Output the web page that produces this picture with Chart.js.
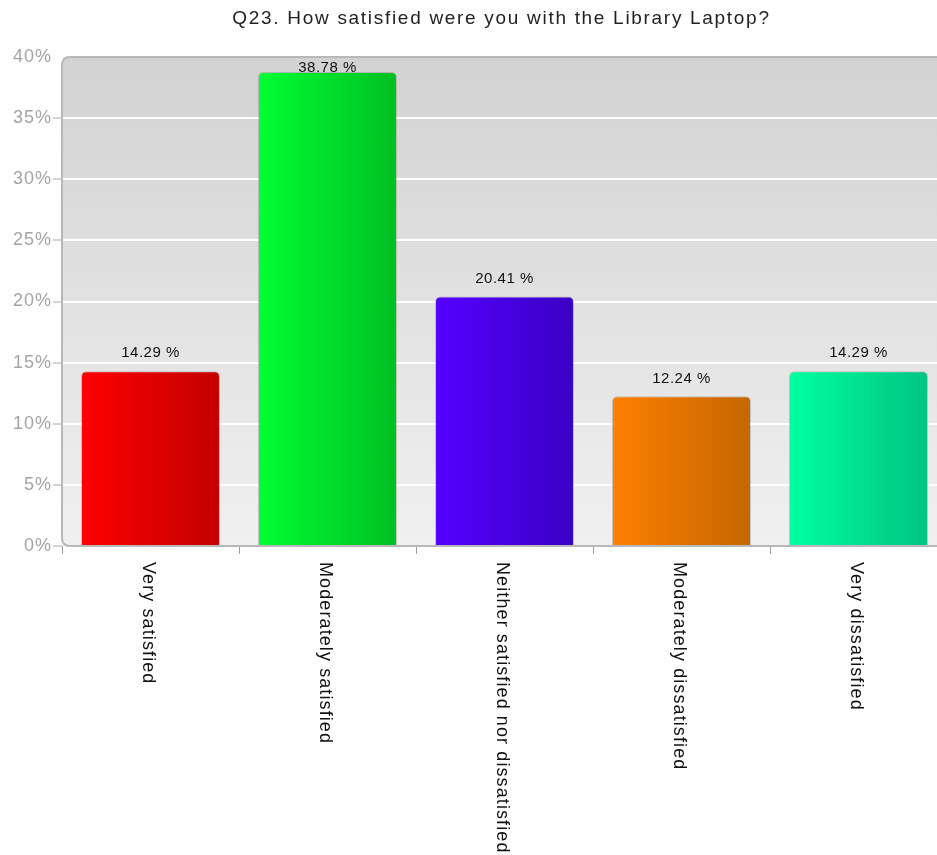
<!DOCTYPE html>
<html>
<head>
<meta charset="utf-8">
<script src="https://cdn.jsdelivr.net/npm/chart.js@4"></script>
<style>
html,body{margin:0;padding:0;background:#fff;overflow:hidden;}
#wrap{width:950px;height:855px;}
</style>
</head>
<body>
<div id="wrap"><canvas id="c" width="950" height="855"></canvas></div>
<script>
const titleText = "Q23. How satisfied were you with the Library Laptop?";
const categories = ["Very satisfied","Moderately satisfied","Neither satisfied nor dissatisfied","Moderately dissatisfied","Very dissatisfied"];
const percentages = [14.29, 38.78, 20.41, 12.24, 14.29];
const colorsLight = ["#ff0000","#00ff33","#5500ff","#ff8000","#00ffa0"];
const colorsDark  = ["#c40000","#00bf22","#3a00c4","#c46600","#00c482"];
const yTicks = [0,5,10,15,20,25,30,35,40];

const FONT = "'Liberation Sans', Arial, sans-serif";

function barFill(ctx){
  const chart = ctx.chart;
  const i = ctx.dataIndex;
  if (!chart.chartArea || !chart.scales.x) return colorsLight[i];
  const xs = chart.scales.x;
  const cx = xs.getPixelForValue(i);
  const w = (xs.width / categories.length) * 0.785;
  const g = chart.ctx.createLinearGradient(cx - w/2, 0, cx + w/2, 0);
  g.addColorStop(0, colorsLight[i]);
  g.addColorStop(1, colorsDark[i]);
  return g;
}

const bgPlugin = {
  id: 'bgPlugin',
  beforeDraw(chart){
    const {ctx, chartArea:a} = chart;
    ctx.letterSpacing = '1px';
    ctx.save();
    const r = 8;
    ctx.beginPath();
    ctx.moveTo(a.left + r, a.top);
    ctx.lineTo(a.right + 20, a.top);
    ctx.lineTo(a.right + 20, a.bottom);
    ctx.lineTo(a.left + r, a.bottom);
    ctx.quadraticCurveTo(a.left, a.bottom, a.left, a.bottom - r);
    ctx.lineTo(a.left, a.top + r);
    ctx.quadraticCurveTo(a.left, a.top, a.left + r, a.top);
    ctx.closePath();
    const g = ctx.createLinearGradient(0, a.top, 0, a.bottom);
    g.addColorStop(0, '#d2d2d2');
    g.addColorStop(1, '#f0f0f0');
    ctx.fillStyle = g;
    ctx.fill();
    ctx.restore();
  },
  afterDraw(chart){
    const {ctx, chartArea:a} = chart;
    const r = 8;
    ctx.save();
    ctx.strokeStyle = '#b8b8b8';
    ctx.lineWidth = 2;
    ctx.beginPath();
    ctx.moveTo(a.right + 20, a.top);
    ctx.lineTo(a.left + r, a.top);
    ctx.quadraticCurveTo(a.left, a.top, a.left, a.top + r);
    ctx.lineTo(a.left, a.bottom - r);
    ctx.quadraticCurveTo(a.left, a.bottom, a.left + r, a.bottom);
    ctx.lineTo(a.right + 20, a.bottom);
    ctx.stroke();
    // title
    ctx.fillStyle = '#222';
    ctx.font = '19px ' + FONT;
    ctx.letterSpacing = '1.7px';
    ctx.textAlign = 'center';
    ctx.textBaseline = 'middle';
    ctx.fillText(titleText, (a.left + a.right) / 2 - 3, 19);
    // rotated category labels (reading top to bottom)
    const xs = chart.scales.x;
    ctx.fillStyle = '#111';
    ctx.font = '18px ' + FONT;
    ctx.letterSpacing = '1.1px';
    ctx.textAlign = 'left';
    ctx.textBaseline = 'middle';
    categories.forEach((lab, i) => {
      const x = xs.getPixelForValue(i) - 3;
      ctx.save();
      ctx.translate(x, 562);
      ctx.rotate(Math.PI / 2);
      ctx.fillText(lab, 0, 0);
      ctx.restore();
    });
    ctx.restore();
  },
  afterDatasetsDraw(chart){
    const {ctx, chartArea:a} = chart;
    const meta = chart.getDatasetMeta(0);
    ctx.save();
    ctx.fillStyle = '#111';
    ctx.font = '15px ' + FONT;
    ctx.letterSpacing = '0.5px';
    ctx.textAlign = 'center';
    ctx.textBaseline = 'middle';
    meta.data.forEach((bar, i) => {
      const y = Math.max(bar.y - 18, a.top + 11);
      ctx.fillText(percentages[i].toFixed(2) + ' %', bar.x, y);
    });
    ctx.restore();
  }
};

new Chart(document.getElementById('c'), {
  type: 'bar',
  data: {
    labels: categories,
    datasets: [{
      data: percentages,
      backgroundColor: barFill,
      borderColor: 'rgba(140,140,140,0.45)',
      borderWidth: 1,
      borderSkipped: 'bottom',
      borderRadius: {topLeft: 5, topRight: 5, bottomLeft: 0, bottomRight: 0},
      barPercentage: 0.785,
      categoryPercentage: 1
    }]
  },
  options: {
    responsive: false,
    animation: false,
    devicePixelRatio: 1,
    layout: { padding: { top: 57, right: 3, bottom: 0, left: 0 } },
    plugins: { legend: { display: false }, title: { display: false }, tooltip: { enabled: false } },
    scales: {
      x: {
        offset: true,
        grid: { display: true, drawOnChartArea: false, drawTicks: true, tickLength: 8, tickColor: '#a0a0a0', tickWidth: 1, offset: true },
        border: { display: false },
        ticks: { display: false },
        afterFit(s){ s.height = 309; }
      },
      y: {
        min: 0, max: 40,
        afterBuildTicks(s){ s.ticks = yTicks.map(v => ({value: v})); },
        ticks: {
          callback: v => v + '%',
          color: '#a4a4a4',
          font: { size: 18, family: FONT },
          padding: 1
        },
        grid: {
          color: c => (c.tick && (c.tick.value === 0 || c.tick.value === 40)) ? 'rgba(0,0,0,0)' : '#ffffff',
          lineWidth: 2,
          tickLength: 9,
          tickColor: c => (c.tick && c.tick.value === 40) ? 'rgba(0,0,0,0)' : '#a8a8a8',
          tickWidth: 1
        },
        border: { display: false },
        afterFit(s){ s.width = 62; }
      }
    }
  },
  plugins: [bgPlugin]
});
</script>
</body>
</html>
